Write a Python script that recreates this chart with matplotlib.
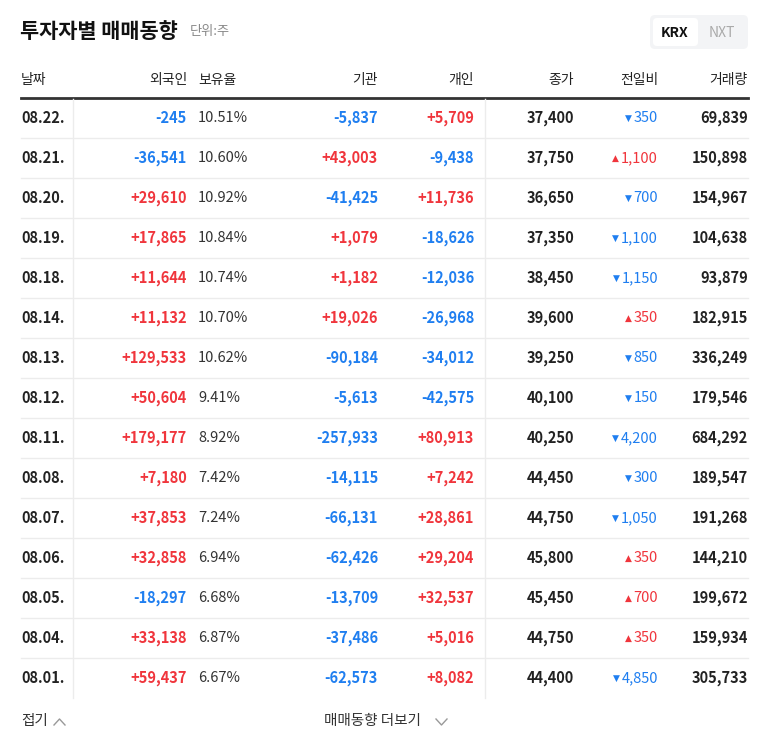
import matplotlib
matplotlib.use("Agg")
import matplotlib.pyplot as plt
from matplotlib.patches import FancyBboxPatch

plt.rcParams['font.family'] = ['Noto Sans CJK JP', 'Noto Sans CJK KR', 'Noto Sans CJK SC', 'DejaVu Sans']

dates = ["08.22.","08.21.","08.20.","08.19.","08.18.","08.14.","08.13.","08.12.","08.11.","08.08.","08.07.","08.06.","08.05.","08.04.","08.01."]
foreign = [-245,-36541,29610,17865,11644,11132,129533,50604,179177,7180,37853,32858,-18297,33138,59437]
holding = [10.51,10.60,10.92,10.84,10.74,10.70,10.62,9.41,8.92,7.42,7.24,6.94,6.68,6.87,6.67]
institution = [-5837,43003,-41425,1079,1182,19026,-90184,-5613,-257933,-14115,-66131,-62426,-13709,-37486,-62573]
individual = [5709,-9438,11736,-18626,-12036,-26968,-34012,-42575,80913,7242,28861,29204,32537,5016,8082]
close = [37400,37750,36650,37350,38450,39600,39250,40100,40250,44450,44750,45800,45450,44750,44400]
change = [-350,1100,-700,-1100,-1150,350,-850,-150,-4200,-300,-1050,350,700,350,-4850]
volume = [69839,150898,154967,104638,93879,182915,336249,179546,684292,189547,191268,144210,199672,159934,305733]
headers = ["날짜","외국인","보유율","기관","개인","종가","전일비","거래량"]

RED, BLUE, DARK = "#f0353c", "#1f7ef0", "#222222"

fig = plt.figure(figsize=(7.68, 7.49), dpi=100)
ax = fig.add_axes([0, 0, 1, 1])
ax.set_xlim(0, 768); ax.set_ylim(749, 0); ax.axis('off')

def sgn(v):
    return (f"+{v:,}" if v > 0 else f"{v:,}"), (RED if v > 0 else BLUE)

ax.text(20, 31, "투자자별 매매동향", fontsize=15, fontweight='bold', va='center', color='#111')
ax.text(190, 32, "단위:주", fontsize=9.5, va='center', color='#888')
ax.add_patch(FancyBboxPatch((650, 15), 98, 34, boxstyle="round,pad=0,rounding_size=5", fc='#f3f4f6', ec='none'))
ax.add_patch(FancyBboxPatch((653, 18), 45, 28, boxstyle="round,pad=0,rounding_size=4", fc='white', ec='none'))
ax.text(675, 33, "KRX", fontsize=10, fontweight='bold', ha='center', va='center', color='#111')
ax.text(722, 33, "NXT", fontsize=10, ha='center', va='center', color='#aaa')

hx = [(21,'left'),(187,'right'),(198,'left'),(378,'right'),(474,'right'),(574,'right'),(658,'right'),(748,'right')]
for (x, ha), h in zip(hx, headers):
    ax.text(x, 80, h, fontsize=10, ha=ha, va='center', color='#222')
ax.plot([21, 748], [98, 98], color='#333', lw=2)
n = len(dates)
ax.plot([73, 73], [99, 98 + 40*n], color='#ececec', lw=1)
ax.plot([485, 485], [99, 98 + 40*n], color='#ececec', lw=1)
fs = 10.5
fig.canvas.draw()
r = fig.canvas.get_renderer()
for i in range(n):
    y = 118 + 40*i
    if i < n - 1:
        ax.plot([21, 748], [y+20, y+20], color='#ececec', lw=1)
    ax.text(21, y, dates[i], fontsize=fs, fontweight='bold', va='center', color=DARK)
    t, c = sgn(foreign[i]); ax.text(187, y, t, fontsize=fs, fontweight='bold', ha='right', va='center', color=c)
    ax.text(198, y, f"{holding[i]:.2f}%", fontsize=fs, va='center', color='#333')
    t, c = sgn(institution[i]); ax.text(378, y, t, fontsize=fs, fontweight='bold', ha='right', va='center', color=c)
    t, c = sgn(individual[i]); ax.text(474, y, t, fontsize=fs, fontweight='bold', ha='right', va='center', color=c)
    ax.text(574, y, f"{close[i]:,}", fontsize=fs, fontweight='bold', ha='right', va='center', color=DARK)
    ch = change[i]
    c = RED if ch > 0 else BLUE
    tt = ax.text(658, y, f"{abs(ch):,}", fontsize=fs, ha='right', va='center', color=c)
    w = tt.get_window_extent(renderer=r).width
    ax.text(658 - w - 2, y, "▲" if ch > 0 else "▼", fontsize=6.5, ha='right', va='center', color=c,
            fontfamily='DejaVu Sans')
    ax.text(748, y, f"{volume[i]:,}", fontsize=fs, fontweight='bold', ha='right', va='center', color=DARK)

ax.text(21, 721, "접기", fontsize=10.5, va='center', color='#333')
ax.plot([54, 59.5, 65], [725, 719, 725], color='#999', lw=1)
ax.text(324, 721, "매매동향 더보기", fontsize=10.5, va='center', color='#333')
ax.plot([436, 441.5, 447], [719, 725, 719], color='#999', lw=1)

fig.savefig("out.png", dpi=100)
